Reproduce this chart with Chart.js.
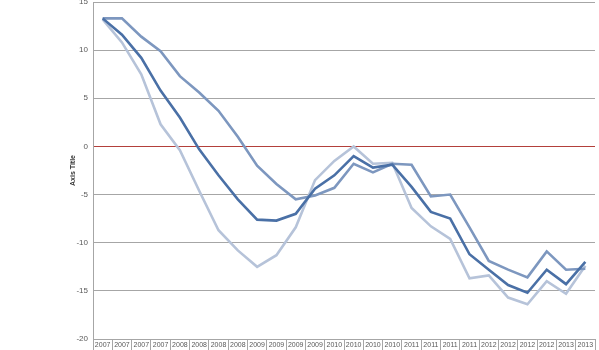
<!DOCTYPE html>
<html>
<head>
<meta charset="utf-8">
<script src="https://cdn.jsdelivr.net/npm/chart.js@4/dist/chart.umd.min.js"></script>
<style>
html,body{margin:0;padding:0;background:#fff;}
canvas{display:block;}
</style>
</head>
<body>
<canvas id="c" width="599" height="350"></canvas>
<script>
const categories = ['2007','2007','2007','2007','2008','2008','2008','2008','2009','2009','2009','2009','2010','2010','2010','2010','2011','2011','2011','2011','2012','2012','2012','2012','2013','2013'];
const seriesDark = [13.3, 11.6, 9.2, 5.8, 3.0, -0.3, -3.0, -5.5, -7.6, -7.7, -7.0, -4.4, -3.0, -1.0, -2.2, -1.9, -4.2, -6.8, -7.5, -11.2, -12.8, -14.4, -15.2, -12.8, -14.3, -12.0];
const seriesMedium = [13.3, 13.3, 11.4, 9.9, 7.3, 5.6, 3.7, 1.0, -2.0, -3.9, -5.5, -5.1, -4.3, -1.8, -2.7, -1.8, -1.9, -5.2, -5.0, -8.4, -11.9, -12.8, -13.6, -10.9, -12.8, -12.7];
const seriesLight = [13.2, 10.8, 7.5, 2.3, -0.4, -4.6, -8.7, -10.8, -12.5, -11.3, -8.4, -3.5, -1.5, 0.0, -1.8, -1.7, -6.4, -8.3, -9.6, -13.7, -13.4, -15.7, -16.4, -14.0, -15.3, -12.4];
const yMin = -20, yMax = 15, yStep = 5;
const yTitle = 'Axis Title';

const FONT = "'Liberation Sans', Arial, sans-serif";
const GRID = '#a6a6a6';

new Chart(document.getElementById('c'), {
  type: 'line',
  data: {
    labels: categories,
    datasets: [
      {data: seriesDark, borderColor: '#4a70a6', borderWidth: 2.6, pointRadius: 0, tension: 0, fill: false},
      {data: seriesMedium, borderColor: '#7d97bf', borderWidth: 2.6, pointRadius: 0, tension: 0, fill: false},
      {data: seriesLight, borderColor: '#b6c3d9', borderWidth: 2.6, pointRadius: 0, tension: 0, fill: false}
    ]
  },
  options: {
    responsive: false,
    animation: false,
    layout: {padding: {left: 0, right: 4, top: 2, bottom: 0}},
    plugins: {legend: {display: false}, tooltip: {enabled: false}},
    scales: {
      x: {
        offset: true,
        grid: {offset: true, drawOnChartArea: false, drawTicks: true, tickLength: 11, color: GRID, lineWidth: 1},
        border: {display: true, color: GRID, width: 1},
        ticks: {autoSkip: false, maxRotation: 0, minRotation: 0, padding: -9, color: '#595959', font: {family: FONT, size: 7}},
        afterFit: s => { s.height = 11; s.paddingLeft = 0; s.paddingRight = 0; }
      },
      y: {
        min: yMin, max: yMax,
        grid: {drawTicks: false, color: c => (c.tick && c.tick.value === 0) ? '#b3403b' : GRID, lineWidth: 1},
        border: {display: true, color: GRID, width: 1},
        ticks: {stepSize: yStep, padding: 5, color: '#595959', font: {family: FONT, size: 8}},
        title: {display: true, text: yTitle, color: '#333333', font: {family: FONT, size: 7, weight: 'bold'}, padding: {top: 69, bottom: 0}},
        afterFit: s => { s.width = 93; s.paddingTop = 0; s.paddingBottom = 0; }
      }
    }
  }
});
</script>
</body>
</html>
